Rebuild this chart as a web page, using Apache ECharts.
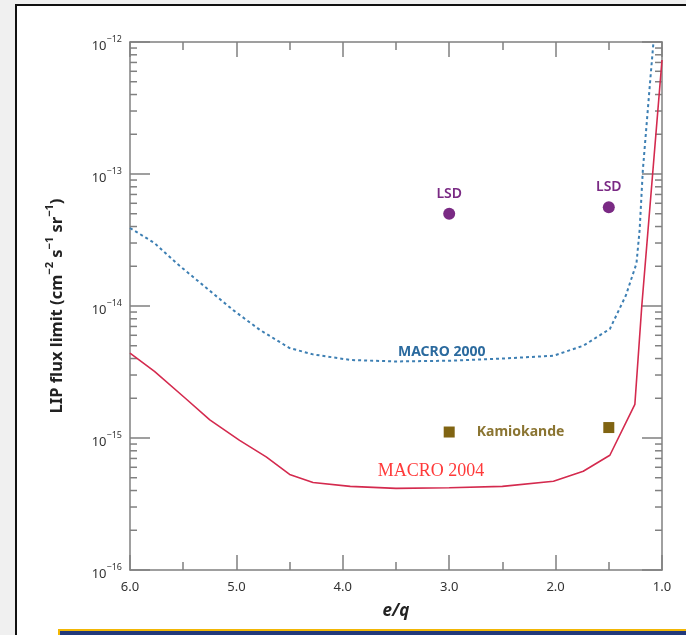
<!DOCTYPE html>
<html>
<head>
<meta charset="utf-8">
<script src="https://cdn.jsdelivr.net/npm/echarts@6/dist/echarts.min.js"></script>
<style>
  html, body { margin: 0; padding: 0; }
  body { width: 686px; height: 635px; background: #f0f0f0; position: relative; overflow: hidden; }
  .frame { position: absolute; left: 15px; top: 4px; right: 0; bottom: 0; background: #fff;
           border-left: 2px solid #111; border-top: 2px solid #111; }
  .bar { position: absolute; left: 58px; top: 629px; right: 0; bottom: 0; background: #22397a;
         border-top: 2px solid #f2b705; border-left: 2px solid #f2b705; }
  #chart { position: absolute; left: 0; top: 0; width: 686px; height: 635px; }
</style>
</head>
<body>
<div class="frame"></div>
<div class="bar"></div>
<div id="chart"></div>
<script>
// MACRO 2004 (solid red)
const macro2004X = [6.0, 5.77, 5.48, 5.25, 4.97, 4.72, 4.5, 4.28, 3.93, 3.5, 3.0, 2.5, 2.02, 1.74, 1.49, 1.255, 1.19, 1.0];
const macro2004Y = [4.4e-15, 3.2e-15, 2.0e-15, 1.37e-15, 9.6e-16, 7.2e-16, 5.3e-16, 4.6e-16, 4.3e-16, 4.15e-16, 4.2e-16, 4.3e-16, 4.7e-16, 5.6e-16, 7.4e-16, 1.8e-15, 1.0e-14, 7.3e-13];
// MACRO 2000 (dotted blue)
const macro2000X = [6.0, 5.77, 5.56, 5.03, 4.78, 4.5, 4.28, 3.93, 3.5, 3.0, 2.5, 2.02, 1.74, 1.49, 1.34, 1.24, 1.21, 1.18, 1.11, 1.08];
const macro2000Y = [3.9e-14, 3.0e-14, 2.1e-14, 9.3e-15, 6.6e-15, 4.8e-15, 4.3e-15, 3.9e-15, 3.8e-15, 3.85e-15, 4.0e-15, 4.2e-15, 5.0e-15, 6.7e-15, 1.2e-14, 2.1e-14, 3.8e-14, 1.07e-13, 5.2e-13, 1e-12];
// LSD and Kamiokande points
const lsdX = [3.0, 1.5];
const lsdY = [5.0e-14, 5.6e-14];
const kamX = [3.0, 1.5];
const kamY = [1.11e-15, 1.2e-15];
// text annotations
const noteText = ['MACRO 2000', 'MACRO 2004'];
const noteX = [3.07, 3.17];
const noteY = [4.45e-15, 5.6e-16];

// log minor ticks 2..9 per decade
const minorTickY = [];
for (let e = -16; e < -12; e++) {
  for (let m = 2; m <= 9; m++) minorTickY.push(m * Math.pow(10, e));
}

const zip = (xs, ys) => xs.map((x, i) => [x, ys[i]]);
const sup = s => s.replace('-', '\u2212');

const axisColor = '#808080';
const font = 'Noto Sans';

const chart = echarts.init(document.getElementById('chart'));

const xCommon = {
  type: 'value', min: 1, max: 6, interval: 1, inverse: true,
  axisLine: { show: true, onZero: false, lineStyle: { color: axisColor, width: 1.5 } },
  axisTick: { show: true, inside: true, length: 15, lineStyle: { color: axisColor, width: 1.5 } },
  minorTick: { show: true, splitNumber: 2, length: 8, lineStyle: { color: axisColor, width: 1.5 } },
  splitLine: { show: false }
};
const yCommon = {
  type: 'log', logBase: 10, min: 1e-16, max: 1e-12,
  axisLine: { show: true, onZero: false, lineStyle: { color: axisColor, width: 1.5 } },
  axisTick: { show: true, inside: true, length: 20, lineStyle: { color: axisColor, width: 1.5 } },
  splitLine: { show: false }
};

chart.setOption({
  animation: false,
  backgroundColor: 'transparent',
  grid: { left: 130, right: 24, top: 42, bottom: 65 },
  xAxis: [
    Object.assign({}, xCommon, {
      position: 'bottom',
      name: 'e/q', nameLocation: 'middle', nameGap: 33,
      nameTextStyle: { fontFamily: font, fontSize: 17, fontWeight: 'bold', fontStyle: 'italic', color: '#222' },
      axisLabel: { margin: 11, fontFamily: font, fontSize: 13, color: '#333', formatter: v => v.toFixed(1) }
    }),
    Object.assign({}, xCommon, { position: 'top', axisLabel: { show: false } })
  ],
  yAxis: [
    Object.assign({}, yCommon, {
      position: 'left',
      name: '{t|LIP flux limit (cm}{s|\u22122}{t| s}{s|\u22121}{t| sr}{s|\u22121}{t|)}',
      nameLocation: 'middle', nameGap: 64,
      nameTextStyle: {
        rich: {
          t: { fontFamily: font, fontSize: 16.5, fontWeight: 'bold', color: '#222', lineHeight: 22, verticalAlign: 'bottom' },
          s: { fontFamily: font, fontSize: 11, fontWeight: 'bold', color: '#222', lineHeight: 22, verticalAlign: 'top', padding: [0, 0, 8, 0] }
        }
      },
      axisLabel: {
        margin: 8,
        padding: [4, 0, 0, 0],
        formatter: v => '{b|10}{s|' + sup(String(Math.round(Math.log10(v)))) + '}',
        rich: {
          b: { fontFamily: font, fontSize: 13, color: '#333', lineHeight: 18, verticalAlign: 'bottom' },
          s: { fontFamily: font, fontSize: 9, color: '#333', lineHeight: 18, verticalAlign: 'top', padding: [0, 0, 8, 0] }
        }
      }
    }),
    Object.assign({}, yCommon, { position: 'right', axisLabel: { show: false } })
  ],
  series: [
    {
      type: 'custom',
      silent: true,
      data: minorTickY.map(v => [6, v]),
      renderItem: (params, api) => {
        const cs = params.coordSys;
        const y = api.coord([6, api.value(1)])[1];
        const style = { stroke: axisColor, lineWidth: 1.5 };
        return {
          type: 'group',
          children: [
            { type: 'line', shape: { x1: cs.x, y1: y, x2: cs.x + 7, y2: y }, style },
            { type: 'line', shape: { x1: cs.x + cs.width - 7, y1: y, x2: cs.x + cs.width, y2: y }, style }
          ]
        };
      }
    },
    {
      name: 'MACRO 2000',
      type: 'line',
      data: zip(macro2000X, macro2000Y),
      showSymbol: false,
      lineStyle: { color: '#3d7fb3', width: 2, type: [3, 3] },
      markPoint: {
        symbol: 'circle', symbolSize: 0,
        label: { show: true, position: 'inside', formatter: noteText[0], fontFamily: font, fontSize: 14, fontWeight: 'bold', color: '#2b6a9e' },
        data: [{ coord: [noteX[0], noteY[0]] }]
      }
    },
    {
      name: 'MACRO 2004',
      type: 'line',
      data: zip(macro2004X, macro2004Y),
      showSymbol: false,
      lineStyle: { color: '#d42a4e', width: 1.6 },
      markPoint: {
        symbol: 'circle', symbolSize: 0,
        label: { show: true, position: 'inside', formatter: noteText[1], fontFamily: 'Liberation Serif', fontSize: 18, color: '#ff3a3a' },
        data: [{ coord: [noteX[1], noteY[1]] }]
      }
    },
    {
      name: 'LSD',
      type: 'scatter',
      data: zip(lsdX, lsdY),
      symbol: 'circle', symbolSize: 12,
      itemStyle: { color: '#7a2a84', opacity: 1 },
      label: { show: true, position: 'top', distance: 7, formatter: 'LSD', fontFamily: font, fontSize: 14, fontWeight: 600, color: '#7a2a84' }
    },
    {
      name: 'Kamiokande',
      type: 'scatter',
      data: zip(kamX, kamY),
      symbol: 'rect', symbolSize: 11,
      itemStyle: { color: '#806412', opacity: 1 },
      label: {
        show: true, position: 'right', distance: 22, fontFamily: font, fontSize: 14, fontWeight: 'bold', color: '#8b7532',
        formatter: p => p.dataIndex === 0 ? 'Kamiokande' : ''
      }
    }
  ]
});
</script>
</body>
</html>
